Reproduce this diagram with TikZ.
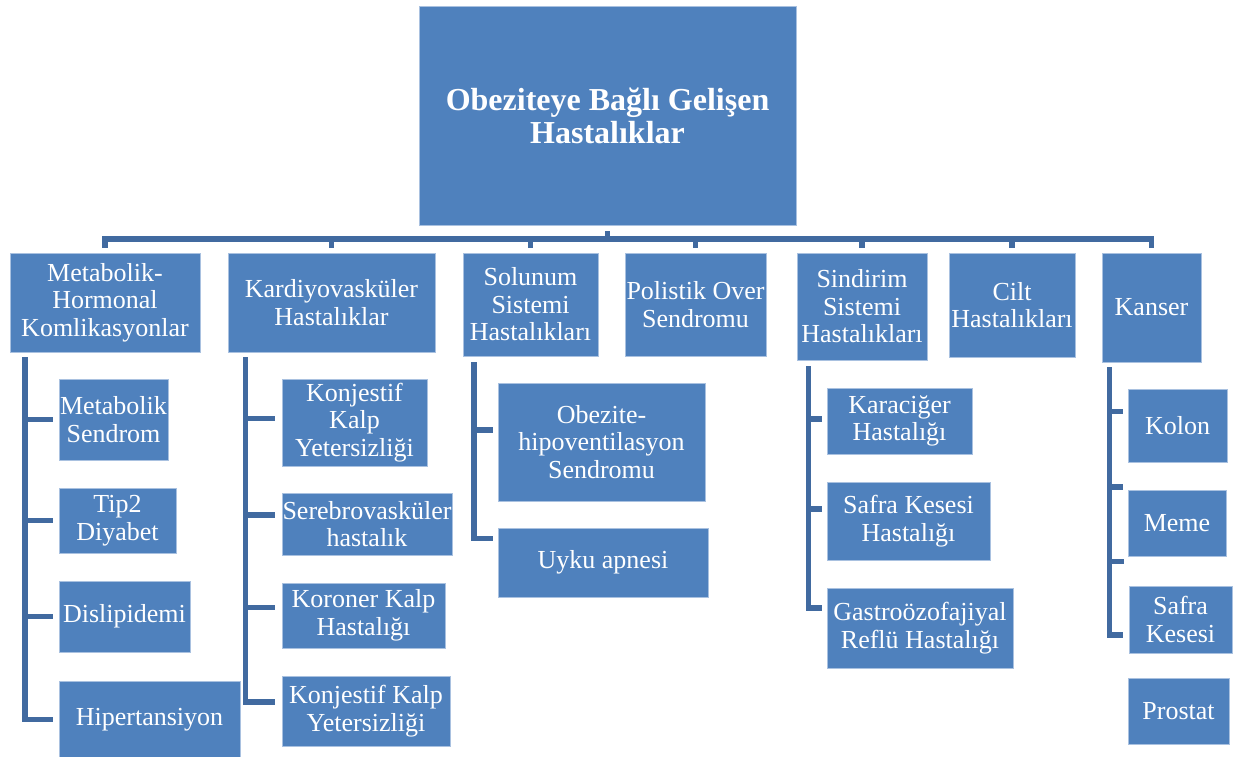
\documentclass[tikz,border=0pt]{standalone}
\usepackage{fontspec}
\setmainfont{Liberation Serif}
\definecolor{boxblue}{HTML}{4F81BD}
\definecolor{linkblue}{RGB}{65,106,160}
\definecolor{edgeblue}{HTML}{A9C1E0}

\begin{document}
\begin{tikzpicture}[x=0.5pt, y=-0.5pt,
   box/.style 2 args={draw=edgeblue, line width=0.4pt, fill=boxblue, text=white,
      inner sep=0pt, align=center, minimum width=#1*0.5pt, minimum height=#2*0.5pt,
      font=\fontsize{13}{13.75}\selectfont},
   titlebox/.style={font=\bfseries\fontsize{16}{16.5}\selectfont},
   link/.style={draw=linkblue, line width=2.8pt}]

\useasboundingbox (0,0) rectangle (1235,756);

\node[box={377}{219}, titlebox] (title) at (607.5,115.5) {Obeziteye Bağlı Gelişen\\Hastalıklar};

\node[box={190}{99}]  (meta)   at (105,302.5)   {Metabolik-\\Hormonal\\Komlikasyonlar};
\node[box={207}{99}]  (kardi)  at (331.5,302.5) {Kardiyovasküler\\Hastalıklar};
\node[box={135}{103}] (solu)   at (530.5,304.5) {Solunum\\Sistemi\\Hastalıkları};
\node[box={141}{103}] (polis)  at (695.5,304.5) {Polistik Over\\Sendromu};
\node[box={130}{107}] (sindi)  at (862,306.5)   {Sindirim\\Sistemi\\Hastalıkları};
\node[box={126}{104}] (cilt)   at (1012,305)    {Cilt\\Hastalıkları};
\node[box={99}{109}]  (kanser) at (1151.5,307.5) {Kanser};

\node[box={109}{81}] (metsen) at (113.5,419.5) {Metabolik\\Sendrom};
\node[box={117}{65}] (tip2)   at (117.5,520.5) {Tip2\\Diyabet};
\node[box={131}{71}] (disli)  at (124.5,616.5) {Dislipidemi};
\node[box={181}{77}] (hiper)  at (149.5,719.5) {Hipertansiyon};

\node[box={145}{87}] (kkalp1) at (354.5,422.5) {Konjestif\\Kalp\\Yetersizliği};
\node[box={170}{62}] (sereb)  at (367,524)     {Serebrovasküler\\hastalık};
\node[box={163}{65}] (koron)  at (363.5,615.5) {Koroner Kalp\\Hastalığı};
\node[box={168}{70}] (kkalp2) at (366,711)     {Konjestif Kalp\\Yetersizliği};

\node[box={207}{118}] (obez) at (601.5,442) {Obezite-\\hipoventilasyon\\Sendromu};
\node[box={210}{69}]  (uyku) at (603,562.5) {Uyku apnesi};

\node[box={145}{66}] (karac)  at (899.5,421) {Karaciğer\\Hastalığı};
\node[box={163}{78}] (safra1) at (908.5,521) {Safra Kesesi\\Hastalığı};
\node[box={186}{80}] (gastro) at (920,628)   {Gastroözofajiyal\\Reflü Hastalığı};

\node[box={99}{73}]  (kolon)  at (1177.5,425.5) {Kolon};
\node[box={98}{66}]  (meme)   at (1177,523)     {Meme};
\node[box={103}{67}] (safra2) at (1180.5,619.5) {Safra\\Kesesi};
\node[box={101}{66}] (prost)  at (1178.5,711)   {Prostat};

\coordinate (bus) at (0,239);
\draw[link] ([yshift=-3pt]title.south) -- (title.south |- bus);
\foreach \n in {meta,kardi,solu,polis,sindi,cilt,kanser}
   \draw[link] (title.south |- bus) -| ([yshift=2.5pt]\n.north);

\coordinate (meta spine)   at ([xshift=7.75pt,yshift=-2.5pt]meta.south west);
\coordinate (kardi spine)  at ([xshift=9pt,yshift=-2.5pt]kardi.south west);
\coordinate (solu spine)   at ([xshift=5.75pt,yshift=-3pt]solu.south west);
\coordinate (sindi spine)  at ([xshift=6pt,yshift=-3pt]sindi.south west);
\coordinate (kanser spine) at ([xshift=4pt,yshift=-2.5pt]kanser.south west);

\foreach \c in {metsen,tip2,disli,hiper}
   \draw[link] (meta spine) |- ([xshift=-3pt]\c.west);
\foreach \c/\s in {kkalp1/2,sereb/4.5,koron/4,kkalp2/4.5}
   \draw[link] (kardi spine) |- ([xshift=-3.5pt,yshift=\s pt]\c.west);
\foreach \c/\s in {obez/6,uyku/12}
   \draw[link] (solu spine) |- ([xshift=-2.5pt,yshift=\s pt]\c.west);
\foreach \c/\s in {karac/1,safra1/6,gastro/10}
   \draw[link] (sindi spine) |- ([xshift=-2.5pt,yshift=\s pt]\c.west);
\foreach \c/\s in {kolon/7,meme/18,safra2/29,prost/38}
   \draw[link] (kanser spine) |- ([xshift=-2.5pt,yshift=\s pt]\c.west);

\end{tikzpicture}
\end{document}
